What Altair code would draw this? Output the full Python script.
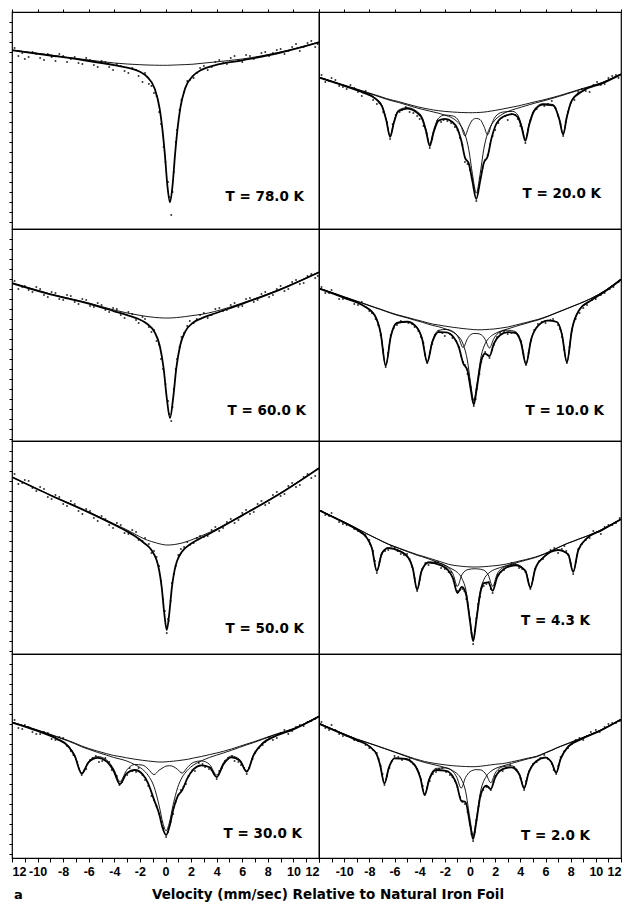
import altair as alt
import pandas as pd

FONT = "DejaVu Sans"
TICK_FONT = "Liberation Sans"

# ---------------- 78.0 K (left, row 1) ----------------
L1_V = [-12, -9, -6, -4, -3, -2, -1.45, -0.85, -0.45, -0.25, -0.05, 0.15, 0.35, 0.55, 0.75, 0.95, 1.15, 1.55, 2.15, 2.85, 3.85, 6, 9, 12]
L1_BASE = [38, 43, 48, 51, 52, 52.7, 53, 53.2, 53.3, 53.3, 53.3, 53.3, 53.2, 53.1, 53, 52.9, 52.8, 52.6, 52.2, 51.3, 50, 47, 40, 30]
L1_TOT = [38.3, 43.5, 49, 53.2, 55.6, 59.8, 64.6, 76.5, 97.1, 116.3, 142.3, 173.9, 190.2, 173.6, 142, 115.9, 96.6, 75.9, 63.8, 57.6, 53.3, 48.3, 40.5, 30.3]
L1_DOTS = [(-11.5, 44), (-11, 47), (-10.4, 40), (-9.8, 46), (-9.2, 42), (-8.6, 49), (-8, 44), (-7.4, 47), (-6.8, 51), (-6.2, 46),
           (-5.6, 53), (-5, 49), (-4.4, 55), (-3.8, 52), (-3.2, 59), (-2.6, 56), (-2.1, 64), (-1.6, 61), (-1.1, 74), (-0.7, 84),
           (-0.35, 112), (0.0, 150), (0.3, 185), (0.45, 203), (0.65, 160), (0.9, 118), (1.25, 88), (1.7, 69), (2.2, 66), (2.7, 56),
           (3.3, 58), (3.9, 50), (4.5, 51), (5.1, 46), (5.7, 49), (6.3, 43), (6.9, 47), (7.5, 41), (8.1, 44), (8.7, 38),
           (9.3, 42), (9.9, 35), (10.5, 39), (11.1, 31), (11.7, 35),
           (-11.8, 36), (-11.2, 41), (-10.7, 45), (-10.1, 42), (-9.5, 48), (-8.9, 45), (-8.3, 42), (-7.7, 50), (-7.1, 45), (-6.5, 52),
           (-5.9, 48), (-5.3, 55), (-4.7, 50), (-4.1, 58), (-3.5, 54), (-2.9, 61), (-2.3, 58), (-1.8, 70), (-1.3, 72), (-0.9, 81),
           (-0.5, 100), (-0.15, 135), (0.2, 170), (0.55, 180), (0.8, 130), (1.1, 98), (1.45, 80), (1.9, 68), (2.45, 61), (3.0, 54),
           (3.6, 55), (4.2, 48), (4.8, 52), (5.4, 44), (6.0, 50), (6.6, 44), (7.2, 45), (7.8, 40), (8.4, 41), (9.0, 37),
           (9.6, 39), (10.2, 32), (10.8, 35), (11.4, 29), (11.9, 32)]

# ---------------- 60.0 K (left, row 2) ----------------
L2_V = [-12, -9, -6, -4, -3, -2.15, -1.45, -0.85, -0.45, -0.15, 0.1, 0.35, 0.6, 0.85, 1.15, 1.55, 2.15, 2.85, 3.85, 6, 9, 12]
L2_BASE = [54, 65, 74, 81, 84, 86, 87.5, 88.4, 88.8, 89, 89, 89, 88.8, 88.6, 88.2, 87.6, 86.5, 85.3, 82.5, 74, 60, 43]
L2_TOT = [54.2, 65.3, 74.6, 82.3, 86.2, 89.8, 94.7, 103.2, 116.8, 139, 169, 189, 168.8, 138.6, 116.2, 102.4, 93.7, 89.1, 84.5, 74.8, 60.3, 43.2]
L2_DOTS = [(-11.5, 60), (-11, 57), (-10.4, 63), (-9.8, 60), (-9.2, 68), (-8.6, 64), (-8, 71), (-7.4, 67), (-6.8, 75), (-6.2, 71),
           (-5.6, 78), (-5, 76), (-4.4, 83), (-3.8, 80), (-3.2, 89), (-2.6, 85), (-2.1, 94), (-1.6, 90), (-1.1, 103), (-0.7, 112),
           (-0.35, 130), (0.0, 155), (0.3, 185), (0.45, 192), (0.65, 160), (0.9, 130), (1.25, 108), (1.7, 97), (2.2, 94), (2.7, 86),
           (3.3, 89), (3.9, 80), (4.5, 82), (5.1, 76), (5.7, 78), (6.3, 70), (6.9, 73), (7.5, 65), (8.1, 68), (8.7, 60),
           (9.3, 62), (9.9, 53), (10.5, 55), (11.1, 47), (11.7, 49),
           (-11.8, 52), (-11.2, 58), (-10.7, 61), (-10.1, 58), (-9.5, 66), (-8.9, 63), (-8.3, 70), (-7.7, 66), (-7.1, 73), (-6.5, 70),
           (-5.9, 77), (-5.3, 74), (-4.7, 81), (-4.1, 79), (-3.5, 86), (-2.9, 83), (-2.3, 91), (-1.8, 88), (-1.3, 98), (-0.9, 101),
           (-0.5, 116), (-0.2, 140), (0.2, 172), (0.55, 178), (0.8, 140), (1.1, 118), (1.45, 104), (1.9, 92), (2.45, 90), (3.0, 84),
           (3.6, 86), (4.2, 79), (4.8, 81), (5.4, 74), (6.0, 77), (6.6, 69), (7.2, 71), (7.8, 63), (8.4, 66), (9.0, 57),
           (9.6, 60), (10.2, 51), (10.8, 54), (11.4, 45), (11.9, 47)]

# ---------------- 50.0 K (left, row 3) ----------------
L3_V = [-12, -9, -6, -4, -3, -2.4, -1.7, -1.1, -0.7, -0.5, -0.3, -0.1, 0.1, 0.3, 0.5, 0.7, 0.9, 1.3, 1.9, 2.6, 3.5, 6, 9, 12]
L3_BASE = [36, 54, 71, 83, 89, 93, 97.7, 100.5, 102, 102.7, 103.3, 103.8, 104, 104, 103.8, 103.5, 103.1, 102, 99.5, 96, 91, 74, 52, 27]
L3_TOT = [36.1, 54.2, 71.4, 83.8, 90.4, 95.1, 101.7, 109, 119, 129, 145.8, 171.8, 189, 172, 146.3, 129.8, 120.1, 110.5, 103.5, 98.1, 92.2, 74.4, 52.2, 27.1]
L3_DOTS = [(-11.5, 43), (-11, 39), (-10.4, 47), (-9.8, 46), (-9.2, 56), (-8.6, 54), (-8, 63), (-7.4, 60), (-6.8, 70), (-6.2, 68),
           (-5.6, 77), (-5, 75), (-4.4, 84), (-3.8, 82), (-3.2, 92), (-2.6, 89), (-2.1, 99), (-1.6, 97), (-1.1, 112), (-0.7, 116),
           (-0.35, 140), (-0.05, 170), (0.1, 192), (0.25, 180), (0.5, 142), (0.8, 125), (1.2, 108), (1.7, 101), (2.2, 102), (2.7, 95),
           (3.3, 95), (3.9, 86), (4.5, 87), (5.1, 78), (5.7, 79), (6.3, 69), (6.9, 71), (7.5, 60), (8.1, 62), (8.7, 51),
           (9.3, 53), (9.9, 42), (10.5, 44), (11.1, 33), (11.7, 35),
           (-11.8, 33), (-11.2, 42), (-10.7, 40), (-10.1, 50), (-9.5, 48), (-8.9, 58), (-8.3, 56), (-7.7, 65), (-7.1, 63), (-6.5, 73),
           (-5.9, 70), (-5.3, 80), (-4.7, 78), (-4.1, 87), (-3.5, 84), (-2.9, 93), (-2.3, 91), (-1.8, 100), (-1.3, 103), (-0.9, 110),
           (-0.5, 125), (-0.2, 158), (0.2, 178), (0.4, 160), (0.65, 133), (1.0, 114), (1.45, 106), (1.9, 104), (2.45, 97), (3.0, 96),
           (3.6, 89), (4.2, 90), (4.8, 81), (5.4, 82), (6.0, 72), (6.6, 73), (7.2, 63), (7.8, 64), (8.4, 54), (9.0, 55),
           (9.6, 45), (10.2, 46), (10.8, 36), (11.4, 37), (11.9, 28)]

# ---------------- 30.0 K (left, row 4) ----------------
L4_V = [-12, -10, -8.5, -7.6, -7.1, -6.55, -6.0, -5.3, -4.6, -4.05, -3.56, -3.05, -2.4, -1.8, -1.35, -0.9, -0.5, -0.2, 0.05, 0.3,
        0.6, 0.95, 1.3, 1.7, 2.2, 2.8, 3.45, 4.0, 4.55, 5.15, 5.8, 6.35, 6.9, 7.6, 8.5, 10, 12]
L4_BASE = [68, 76, 82.5, 86.5, 89, 92, 94.5, 97.2, 99.7, 101.5, 102.5, 103.8, 105.2, 106.3, 107, 107.6, 108, 108, 107.8, 107.5,
           107.2, 106.7, 106.1, 105.4, 104, 102.5, 100.6, 99, 97.2, 95, 92.3, 90, 87.8, 84.7, 80.7, 74.5, 62]
L4_SEXT = [68.3, 76.7, 84.4, 91.7, 101.2, 118.8, 107.2, 102.6, 106, 115, 127.6, 116.5, 110.5, 111.1, 115.05, 120.6, 116.2, 113.7, 112.05, 111.7,
           112.5, 115.5, 119.1, 113.6, 108.3, 106.9, 110.5, 121, 108.3, 102.1, 105.5, 116.9, 100.1, 88.7, 82.3, 75.1, 62.25]
L4_SING = [68.25, 76.3, 82.95, 87.1, 89.65, 92.8, 95.35, 98.4, 101.2, 103.45, 105, 106.9, 110.7, 115.3, 121.5, 132.6, 151.5, 169.3, 176.8, 168.8,
           150.7, 133.6, 123.3, 116.5, 110.9, 106.9, 103.4, 101.1, 98.85, 96.3, 93.3, 90.85, 88.55, 85.3, 81.15, 74.8, 62.25]
L4_TOT = [68.55, 77, 84.85, 92.3, 101.85, 119.6, 108.05, 103.8, 107.5, 116.95, 130.1, 119.6, 116, 120.1, 129.55, 145.6, 159.7, 175, 181, 173,
          156, 142.4, 136.3, 124.7, 115.2, 111.3, 113.3, 123.1, 109.95, 103.4, 106.5, 117.75, 100.85, 89.3, 82.75, 75.4, 62.5]
L4_DOTS = [(-11.5, 74), (-11, 71), (-10.4, 78), (-9.8, 80), (-9.2, 79), (-8.6, 86), (-8, 84), (-7.4, 97), (-6.9, 108), (-6.55, 121),
           (-6.2, 115), (-5.7, 104), (-5.2, 108), (-4.7, 104), (-4.2, 116), (-3.8, 122), (-3.4, 128), (-3.0, 121), (-2.6, 117), (-2.1, 114),
           (-1.6, 126), (-1.1, 142), (-0.7, 152), (-0.3, 168), (0.05, 183), (0.4, 168), (0.8, 148), (1.2, 136), (1.6, 130), (2.1, 116),
           (2.6, 109), (3.1, 113), (3.6, 116), (4.0, 125), (4.4, 114), (4.9, 104), (5.4, 107), (5.9, 111), (6.35, 120), (6.8, 105),
           (7.3, 94), (7.8, 88), (8.4, 86), (9.0, 79), (9.6, 80), (10.2, 73), (10.8, 72), (11.4, 67),
           (-11.8, 66), (-11.2, 75), (-10.7, 73), (-10.1, 80), (-9.5, 78), (-8.9, 85), (-8.3, 83), (-7.7, 92), (-7.2, 101), (-6.75, 115),
           (-6.35, 116), (-5.9, 106), (-5.45, 102), (-4.95, 107), (-4.4, 108), (-3.95, 120), (-3.6, 131), (-3.25, 123), (-2.8, 114), (-2.3, 118),
           (-1.8, 121), (-1.35, 132), (-0.9, 146), (-0.5, 160), (-0.15, 174), (0.2, 178), (0.6, 160), (1.0, 141), (1.4, 133), (1.8, 122),
           (2.3, 117), (2.9, 110), (3.4, 115), (3.8, 120), (4.2, 117), (4.65, 107), (5.2, 102), (5.7, 108), (6.15, 114), (6.55, 114),
           (7.0, 99), (7.6, 91), (8.1, 83), (8.7, 84), (9.3, 76), (9.9, 77), (10.5, 71), (11.1, 68), (11.7, 65)]

# ---------------- 20.0 K (right, row 1) ----------------
R1_V = [-12, -10, -8.5, -7.5, -7.0, -6.65, -6.35, -6.05, -5.7, -5.0, -4.2, -3.8, -3.5, -3.2, -2.9, -2.5, -2.0, -1.4, -1.0, -0.7,
        -0.4, -0.1, 0.2, 0.5, 0.8, 1.1, 1.4, 1.7, 2.0, 2.6, 3.4, 3.8, 4.1, 4.4, 4.7, 5.1, 5.8, 6.6, 7.1, 7.4, 7.7, 8.1, 9.0, 10.5, 12]
R1_BASE = [65, 73, 79, 83, 85, 86.5, 87.5, 88.5, 89.5, 92, 94.7, 95.8, 96.6, 97.3, 98, 98.7, 99.4, 100, 100.3, 100.5,
           100.6, 100.7, 100.7, 100.6, 100.4, 100.1, 99.6, 99, 98.4, 97, 95, 94, 93.1, 92.2, 91.3, 90, 88, 85.4, 83.6, 82.5, 81.3, 79.8, 76.3, 70.5, 62]
R1_SEXT = [65.3, 73.5, 80.1, 86.3, 93.4, 107.7, 124.1, 109.9, 98.4, 95.6, 99.6, 105.3, 117.2, 132.2, 118.6, 106.1, 103.1, 103.9, 107, 114.4,
           123.9, 114.7, 107.9, 106.4, 107.6, 114.1, 122.8, 112.9, 105, 100.1, 99.4, 103.1, 113.3, 127.2, 111.6, 97.7, 91.7, 92.5, 106.7, 121.9, 104.2, 87.8, 78.2, 71, 62.2]
R1_SING = [65.3, 73.4, 79.5, 83.6, 85.7, 87.2, 88.3, 89.3, 90.4, 93, 96, 97.3, 98.2, 99.1, 100, 101.2, 103.1, 106.1, 109.8, 114.3,
           122.3, 137.4, 162.7, 181.2, 162.4, 136.8, 121.3, 112.8, 107.9, 102, 97.7, 96.2, 95, 93.9, 92.8, 91.3, 89, 86.2, 84.3, 83.2, 81.9, 80.4, 76.8, 70.8, 62.2]
R1_TOT = [65.6, 73.9, 80.6, 86.9, 94.1, 108.4, 124.9, 110.7, 99.3, 96.6, 100.9, 106.8, 118.8, 134, 120.6, 108.6, 106.8, 110, 116.6, 128.2,
          145.6, 151.4, 169.9, 187, 169.6, 150.8, 144.5, 126.7, 114.5, 105.1, 102.1, 105.3, 115.2, 128.9, 113.1, 99, 92.7, 93.3, 107.4, 122.6, 104.8, 88.4, 78.7, 71.3, 62.4]
R1_DOTS = [(-11.5, 70), (-11, 66), (-10.4, 74), (-9.8, 77), (-9.2, 76), (-8.6, 84), (-8.0, 82), (-7.4, 92), (-6.9, 100), (-6.35, 127),
           (-5.9, 103), (-5.4, 98), (-4.8, 100), (-4.2, 104), (-3.7, 114), (-3.2, 136), (-2.8, 116), (-2.3, 110), (-1.8, 109), (-1.2, 115),
           (-0.8, 126), (-0.4, 150), (0.0, 158), (0.3, 176), (0.5, 189), (0.8, 166), (1.2, 148), (1.6, 132), (2.0, 118), (2.5, 106),
           (3.0, 108), (3.6, 103), (4.0, 114), (4.4, 131), (4.8, 108), (5.3, 97), (5.9, 94), (6.5, 89), (7.0, 104), (7.4, 124),
           (7.8, 100), (8.3, 88), (8.9, 77), (9.5, 80), (10.1, 70), (10.7, 72), (11.3, 64), (11.8, 66),
           (-11.8, 63), (-11.2, 69), (-10.7, 68), (-10.1, 75), (-9.5, 73), (-8.9, 80), (-8.3, 79), (-7.7, 88), (-7.2, 91), (-6.6, 110),
           (-6.15, 112), (-5.6, 100), (-5.1, 95), (-4.5, 101), (-4.0, 107), (-3.45, 121), (-3.0, 127), (-2.6, 109), (-2.1, 108), (-1.5, 111),
           (-1.0, 118), (-0.6, 133), (-0.2, 152), (0.15, 166), (0.65, 180), (1.0, 156), (1.4, 143), (1.8, 124), (2.25, 111), (2.8, 104),
           (3.3, 102), (3.8, 107), (4.2, 120), (4.6, 118), (5.0, 101), (5.6, 93), (6.2, 92), (6.8, 96), (7.2, 112), (7.6, 110),
           (8.0, 91), (8.6, 80), (9.2, 79), (9.8, 73), (10.4, 73), (11.0, 66), (11.6, 63)]

# ---------------- 10.0 K (right, row 2) ----------------
R2_V = [-12, -10, -8.5, -7.6, -7.1, -6.7, -6.3, -5.8, -5.0, -4.3, -3.8, -3.4, -3.0, -2.5, -1.9, -1.3, -0.9, -0.55, -0.2, 0.05,
        0.3, 0.55, 0.9, 1.2, 1.55, 1.9, 2.4, 3.0, 3.6, 4.05, 4.45, 4.85, 5.4, 6.2, 6.9, 7.3, 7.7, 8.1, 8.7, 9.6, 10.8, 12]
R2_BASE = [59, 67.7, 74.2, 78.1, 80.2, 82, 83.7, 85.7, 88.3, 90.7, 92.3, 93.7, 95, 96, 97.3, 98.4, 99, 99.6, 100, 100.3,
           100.6, 100.8, 100.8, 100.6, 100.3, 100, 99.2, 98, 96.2, 94.8, 93.5, 92.2, 90.4, 87, 83.5, 81.5, 79.5, 77.5, 74.5, 69.5, 61, 50]
R2_SEXT = [59.3, 68.5, 76.3, 85.4, 103.8, 136.4, 107.4, 93.5, 92.2, 96.7, 109.3, 132.5, 112, 101.4, 100.4, 103, 109, 118.5, 109.7, 105.7,
           104.5, 104.5, 105.8, 110.3, 119, 109.4, 102.9, 101.2, 102.5, 112.4, 134.3, 110.2, 96.4, 91.3, 92.7, 104.8, 132.9, 100.5, 80.5, 71.4, 61.7, 50.4]
R2_SING = [59.2, 68, 74.5, 78.5, 80.6, 82.4, 84.2, 86.2, 88.9, 91.5, 93.2, 94.8, 96.3, 97.7, 100.2, 103.6, 107.6, 115.1, 132, 154.3,
           171.6, 154.8, 126.4, 114.8, 108.5, 105.2, 102.3, 99.9, 97.5, 95.8, 94.4, 92.9, 91, 87.4, 83.8, 81.8, 79.8, 77.7, 74.7, 69.7, 61.1, 50.1]
R2_TOT = [59.5, 68.8, 76.6, 85.8, 104.2, 136.8, 107.8, 94, 92.8, 97.5, 110.2, 133.6, 113.3, 103.1, 103.3, 108.2, 117.6, 134, 141.7, 159.7,
          175.5, 158.5, 131.4, 124.5, 127.2, 114.6, 106, 103.1, 103.8, 113.4, 135.2, 110.9, 97, 91.7, 93, 105.1, 133.2, 100.7, 80.7, 71.6, 61.8, 50.5]
R2_DOTS = [(-11.5, 64), (-11, 61), (-10.4, 70), (-9.8, 69), (-9.2, 75), (-8.6, 73), (-8.0, 82), (-7.5, 90), (-7.1, 106), (-6.7, 138),
           (-6.3, 106), (-5.8, 96), (-5.2, 93), (-4.6, 95), (-4.1, 102), (-3.7, 114), (-3.4, 134), (-3.0, 115), (-2.5, 102), (-2.0, 107),
           (-1.4, 109), (-0.9, 118), (-0.55, 133), (-0.2, 145), (0.05, 158), (0.3, 177), (0.55, 160), (0.9, 133), (1.2, 123), (1.55, 129),
           (1.9, 116), (2.4, 104), (3.0, 105), (3.6, 104), (4.05, 112), (4.45, 136), (4.85, 112), (5.4, 95), (6.0, 94), (6.6, 90),
           (7.0, 96), (7.3, 108), (7.7, 134), (8.1, 102), (8.7, 84), (9.3, 76), (10.0, 70), (10.7, 64), (11.4, 58),
           (-11.8, 58), (-11.2, 64), (-10.7, 65), (-10.1, 70), (-9.5, 71), (-8.9, 76), (-8.3, 78), (-7.8, 84), (-7.3, 96), (-6.9, 121),
           (-6.5, 124), (-6.05, 99), (-5.5, 92), (-4.9, 94), (-4.4, 98), (-3.9, 108), (-3.55, 126), (-3.2, 124), (-2.8, 106), (-2.2, 104),
           (-1.6, 105), (-1.1, 112), (-0.7, 127), (-0.4, 136), (-0.05, 150), (0.2, 170), (0.45, 170), (0.75, 145), (1.05, 127), (1.4, 126),
           (1.75, 121), (2.15, 108), (2.7, 102), (3.3, 104), (3.85, 107), (4.25, 125), (4.65, 124), (5.1, 101), (5.7, 93), (6.4, 91),
           (7.15, 100), (7.5, 121), (7.9, 118), (8.4, 90), (9.0, 79), (9.7, 71), (10.4, 66), (11.1, 60), (11.8, 53)]

# ---------------- 4.3 K (right, row 3) ----------------
R3_V = [-12, -10.5, -9, -8.2, -7.8, -7.4, -7.0, -6.5, -5.6, -4.9, -4.55, -4.2, -3.85, -3.3, -2.4, -1.7, -1.35, -1.0, -0.65, -0.3,
        0.0, 0.25, 0.5, 0.8, 1.1, 1.45, 1.8, 2.15, 2.7, 3.6, 4.4, 4.8, 5.2, 5.9, 7.0, 7.8, 8.2, 8.6, 9.3, 10.4, 12]
R3_BASE = [69, 78, 87.3, 92.6, 95.1, 97.6, 100, 103, 107.3, 110.5, 112, 113.6, 114.8, 117, 120.5, 123.3, 124.2, 124.8, 125.3, 125.7,
           125.9, 126, 126, 125.9, 125.7, 125.3, 124.9, 124.5, 123.5, 121, 118.6, 117.4, 116, 112.8, 106.5, 102, 100.2, 98.2, 95, 89, 78]
R3_SEXT = [69.2, 78.4, 88.5, 96.7, 106.9, 129.9, 111.9, 106.8, 109.7, 116.3, 126.7, 148.2, 129.5, 120.8, 122.3, 126.9, 133, 145.3, 133.9, 129.2,
           128.2, 127.8, 127.8, 128.2, 129.2, 134, 145.3, 133.3, 126.1, 123.3, 129.2, 146.2, 126.6, 115.3, 108.8, 113.1, 130.8, 109.2, 97.1, 89.55, 78.2]
R3_SING = [69.1, 78.1, 87.5, 92.8, 95.3, 97.8, 100.3, 103.3, 107.7, 111, 112.6, 114.3, 115.5, 117.9, 122.1, 126.2, 128.5, 131.5, 137.3, 150.7,
           177.9, 198.5, 178, 150.9, 138.7, 132.6, 129.4, 127.6, 125.4, 122, 119.3, 117.95, 116.5, 113.2, 106.75, 102.2, 100.4, 98.4, 95.1, 89.1, 78.1]
R3_TOT = [69.3, 78.5, 88.6, 96.9, 107.1, 130.1, 112.2, 107.1, 110.1, 116.8, 127.3, 148.8, 130.2, 121.7, 123.9, 129.8, 137.3, 152, 145.9, 154.2,
          180.2, 200.3, 179.8, 153.2, 142.2, 141.3, 149.8, 136.4, 128, 124.3, 129.9, 146.75, 127.1, 115.7, 109.05, 113.3, 131, 109.4, 97.2, 89.65, 78.3]
R3_DOTS = [(-11.5, 74), (-11, 72), (-10.4, 81), (-9.8, 84), (-9.2, 88), (-8.6, 92), (-8.0, 99), (-7.7, 110), (-7.4, 132), (-7.0, 113),
           (-6.5, 109), (-6.0, 106), (-5.5, 113), (-5.0, 113), (-4.6, 126), (-4.2, 150), (-3.8, 128), (-3.3, 124), (-2.8, 121), (-2.3, 127),
           (-1.7, 131), (-1.3, 140), (-1.0, 150), (-0.6, 148), (-0.3, 158), (0.0, 178), (0.25, 203), (0.5, 177), (0.8, 156), (1.1, 145),
           (1.5, 141), (1.8, 152), (2.2, 134), (2.7, 129), (3.3, 122), (3.9, 127), (4.4, 131), (4.8, 148), (5.2, 128), (5.8, 118),
           (6.4, 109), (7.0, 112), (7.5, 105), (7.8, 114), (8.2, 133), (8.6, 108), (9.2, 99), (9.8, 90), (10.4, 93), (11.0, 84), (11.6, 82),
           (-11.8, 70), (-11.2, 75), (-10.7, 77), (-10.1, 83), (-9.5, 85), (-8.9, 90), (-8.3, 94), (-7.95, 103), (-7.55, 120), (-7.2, 121),
           (-6.75, 110), (-6.25, 105), (-5.75, 110), (-5.25, 114), (-4.8, 118), (-4.4, 137), (-4.0, 139), (-3.55, 122), (-3.0, 122), (-2.55, 121),
           (-2.0, 128), (-1.5, 131), (-1.15, 145), (-0.8, 149), (-0.45, 150), (-0.15, 165), (0.12, 192), (0.38, 190), (0.65, 163), (0.95, 146),
           (1.3, 143), (1.65, 148), (2.0, 143), (2.45, 131), (3.0, 126), (3.6, 123), (4.15, 128), (4.6, 139), (5.0, 138), (5.5, 120),
           (6.1, 113), (6.7, 107), (7.3, 108), (7.65, 110), (8.0, 122), (8.4, 121), (8.9, 103), (9.5, 97), (10.1, 91), (10.7, 86),
           (11.3, 84), (11.9, 77)]

# ---------------- 2.0 K (right, row 4) ----------------
R4_V = [-12, -10.5, -9, -8, -7.4, -7.15, -6.8, -6.45, -6.0, -5.2, -4.4, -3.95, -3.6, -3.25, -2.7, -1.9, -1.4, -1.05, -0.7, -0.35,
        0.0, 0.25, 0.5, 0.85, 1.3, 1.65, 2.0, 2.6, 3.3, 3.95, 4.3, 4.65, 5.3, 6.0, 6.5, 6.85, 7.2, 7.8, 8.8, 10.4, 12]
R4_BASE = [69.3, 77.4, 85, 89.2, 91.7, 92.8, 94.3, 95.8, 97.8, 101.3, 104.7, 106.3, 107.5, 108.4, 109.6, 111, 111.7, 112, 112.3, 112.5,
           112.7, 112.7, 112.6, 112.2, 111.5, 110.9, 110.3, 109.6, 107.9, 106.1, 105, 104, 102.2, 98.6, 96, 94, 92.2, 89.3, 84.3, 76, 65.3]
R4_SEXT = [69.6, 77.8, 86, 92.2, 100.7, 110.4, 129.2, 113.6, 104, 104.4, 110.4, 122.9, 140.2, 124.8, 114.4, 113.9, 116.9, 123.3, 134.1, 123.4,
           117.7, 116.2, 115.6, 115.9, 120.9, 128.7, 119.2, 112.8, 111.8, 120.4, 133.5, 118.6, 106.4, 103.2, 108.6, 118.5, 104.6, 92.4, 85.2, 76.25, 65.45]
R4_SING = [69.4, 77.5, 85.2, 89.4, 92, 93.1, 94.6, 96.2, 98.2, 101.8, 105.4, 107.2, 108.5, 109.5, 111.2, 113.9, 116.5, 119.4, 124.9, 137.3,
           165.1, 181.7, 165, 137, 122.2, 117.4, 114.6, 112, 109.4, 107.1, 105.85, 104.7, 102.75, 99, 96.4, 94.3, 92.5, 89.55, 84.5, 76.1, 65.4]
R4_TOT = [69.7, 77.9, 86.2, 92.4, 101, 110.7, 129.5, 113.9, 104.4, 104.9, 111.1, 123.8, 141.2, 125.9, 116, 116.8, 121.7, 130.7, 146.7, 148.2,
          170.1, 185.2, 168, 140.7, 131.6, 135.2, 123.5, 115.2, 113.3, 121.4, 134.35, 119.3, 106.95, 103.6, 108.9, 118.8, 104.9, 92.65, 85.4, 76.4, 65.55]
R4_DOTS = [(-11.5, 74), (-11, 71), (-10.4, 80), (-9.8, 82), (-9.2, 86), (-8.6, 88), (-8.0, 94), (-7.4, 99), (-7.1, 112), (-6.8, 131),
           (-6.4, 114), (-6.0, 102), (-5.4, 106), (-4.8, 105), (-4.2, 115), (-3.9, 125), (-3.6, 140), (-3.2, 127), (-2.7, 118), (-2.2, 114),
           (-1.6, 121), (-1.2, 127), (-0.8, 143), (-0.4, 150), (0.0, 171), (0.25, 187), (0.5, 166), (0.85, 142), (1.3, 133), (1.65, 136),
           (2.0, 122), (2.6, 117), (3.2, 111), (3.7, 116), (4.3, 136), (4.7, 117), (5.3, 108), (5.9, 101), (6.5, 110), (6.85, 120),
           (7.2, 103), (7.8, 94), (8.4, 86), (9.0, 86), (9.6, 78), (10.3, 78), (11.0, 70), (11.6, 69),
           (-11.8, 68), (-11.2, 76), (-10.7, 76), (-10.1, 82), (-9.5, 83), (-8.9, 87), (-8.3, 91), (-7.7, 96), (-7.25, 105), (-6.95, 120),
           (-6.6, 122), (-6.2, 107), (-5.7, 103), (-5.1, 105), (-4.5, 110), (-4.05, 119), (-3.75, 132), (-3.4, 134), (-2.95, 120), (-2.45, 115),
           (-1.9, 118), (-1.4, 123), (-1.0, 133), (-0.6, 148), (-0.2, 158), (0.12, 180), (0.38, 178), (0.7, 152), (1.05, 136), (1.45, 133),
           (1.85, 128), (2.3, 117), (2.9, 114), (3.5, 113), (4.0, 124), (4.45, 127), (5.0, 110), (5.6, 104), (6.2, 105), (6.65, 116),
           (7.0, 112), (7.5, 97), (8.1, 90), (8.7, 84), (9.3, 82), (10.0, 76), (10.7, 73), (11.3, 69), (11.9, 67)]

TEMPS = ["T = 78.0 K", "T = 60.0 K", "T = 50.0 K", "T = 30.0 K", "T = 20.0 K", "T = 10.0 K", "T = 4.3 K", "T = 2.0 K"]
X_TICKS = list(range(-12, 13))
AXIS_TITLE = "Velocity (mm/sec) Relative to Natural Iron Foil"

ROW_H = [217, 212, 213, 204]
COL_W = [307, 302]


def panel(V, base, tot, dots, label, col, row, lx, ly, sext=None, sing=None):
    h = ROW_H[row]
    w = COL_W[col]
    if row == 3:
        expr = ("datum.value == -12 ? '12' : (datum.value % 2 == 0 ? '' + datum.value : '')" if col == 0
                else "datum.value == -12 ? '' : (datum.value % 2 == 0 ? '' + datum.value : '')")
        xaxis = alt.Axis(orient="bottom", values=X_TICKS, labelExpr=expr, tickSize=4, domain=False,
                         labelFont=TICK_FONT, labelFontWeight="bold", labelFontSize=12.5, labelPadding=3,
                         labelOverlap=False, labelFlush=True, title=None, grid=False, minExtent=0)
    elif row == 0:
        xaxis = alt.Axis(orient="top", values=list(range(-12, 13, 2)), labels=False, tickSize=3,
                         domain=False, title=None, grid=False, minExtent=0)
    else:
        xaxis = None
    if col == 0:
        yaxis = alt.Axis(orient="left", values=list(range(10, h, 10)), labels=False, tickSize=3,
                         domain=False, title=None, grid=False, minExtent=0)
    else:
        yaxis = None
    xs = alt.X("v:Q", scale=alt.Scale(domain=[-12, 12], nice=False, zero=False), axis=xaxis, title=None)
    ys = alt.Y("a:Q", scale=alt.Scale(domain=[0, h], reverse=True, nice=False, zero=False), axis=yaxis, title=None)

    layers = []
    curves = [(base, 0.9)]
    if sext is not None:
        curves.append((sext, 0.9))
    if sing is not None:
        curves.append((sing, 0.9))
    curves.append((tot, 1.8))
    for vals, sw in curves:
        df = pd.DataFrame({"v": V, "a": vals})
        layers.append(alt.Chart(df).mark_line(color="black", strokeWidth=sw, interpolate="monotone", clip=True)
                      .encode(x=xs, y=ys))
    ddf = pd.DataFrame(dots, columns=["v", "a"])
    layers.append(alt.Chart(ddf).mark_circle(color="black", size=4, opacity=0.8, clip=True).encode(x=xs, y=ys))
    tdf = pd.DataFrame({"t": [label]})
    layers.append(alt.Chart(tdf).mark_text(align="right", baseline="alphabetic", font=FONT, fontWeight="bold",
                                           fontSize=13.5, color="black")
                  .encode(x=alt.value(lx), y=alt.value(ly), text="t:N"))
    if row == 3 and col == 0:
        adf = pd.DataFrame({"t": [AXIS_TITLE]})
        layers.append(alt.Chart(adf).mark_text(align="center", baseline="alphabetic", font=FONT, fontWeight="bold",
                                               fontSize=13.5, color="black")
                      .encode(x=alt.value(316), y=alt.value(h + 41), text="t:N"))
        bdf = pd.DataFrame({"t": ["a"]})
        layers.append(alt.Chart(bdf).mark_text(align="left", baseline="alphabetic", font=FONT, fontWeight="bold",
                                               fontSize=13, color="black")
                      .encode(x=alt.value(2), y=alt.value(h + 41), text="t:N"))
    return alt.layer(*layers).properties(width=w, height=h)


p_l1 = panel(L1_V, L1_BASE, L1_TOT, L1_DOTS, TEMPS[0], 0, 0, 292, 189)
p_l2 = panel(L2_V, L2_BASE, L2_TOT, L2_DOTS, TEMPS[1], 0, 1, 294, 186)
p_l3 = panel(L3_V, L3_BASE, L3_TOT, L3_DOTS, TEMPS[2], 0, 2, 292, 192)
p_l4 = panel(L4_V, L4_BASE, L4_TOT, L4_DOTS, TEMPS[3], 0, 3, 290, 184, L4_SEXT, L4_SING)
p_r1 = panel(R1_V, R1_BASE, R1_TOT, R1_DOTS, TEMPS[4], 1, 0, 282, 186, R1_SEXT, R1_SING)
p_r2 = panel(R2_V, R2_BASE, R2_TOT, R2_DOTS, TEMPS[5], 1, 1, 285, 186, R2_SEXT, R2_SING)
p_r3 = panel(R3_V, R3_BASE, R3_TOT, R3_DOTS, TEMPS[6], 1, 2, 271, 184, R3_SEXT, R3_SING)
p_r4 = panel(R4_V, R4_BASE, R4_TOT, R4_DOTS, TEMPS[7], 1, 3, 271, 186, R4_SEXT, R4_SING)

chart = (alt.concat(p_l1, p_r1, p_l2, p_r2, p_l3, p_r3, p_l4, p_r4, columns=2, spacing=0, bounds="flush")
         .properties(padding={"left": 7, "top": 7, "right": 0, "bottom": 0}, background="white")
         .configure_view(stroke="black", strokeWidth=1.2)
         .configure_axis(tickColor="black", labelColor="black", tickWidth=1))

chart.save("out.html", embed_options={"renderer": "svg", "actions": False})
